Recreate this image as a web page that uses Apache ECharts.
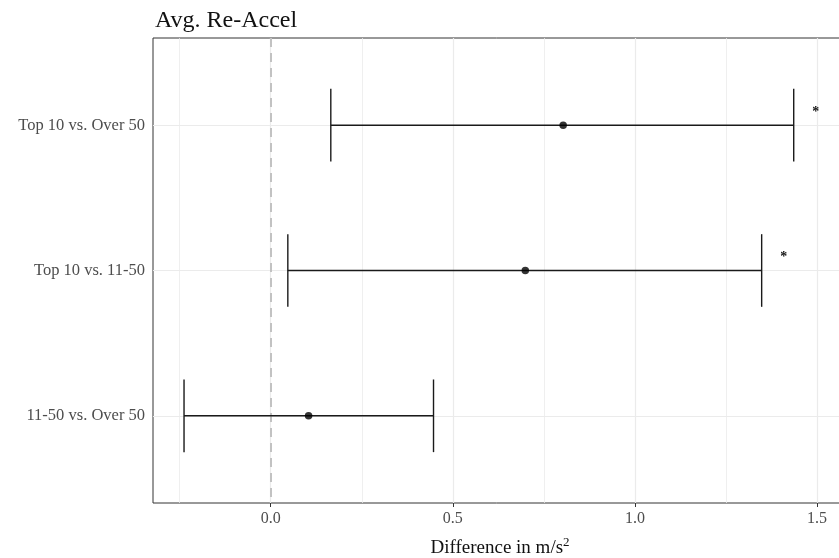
<!DOCTYPE html>
<html><head><meta charset="utf-8">
<script src="https://cdn.jsdelivr.net/npm/echarts@6/dist/echarts.min.js"></script>
<style>html,body{margin:0;padding:0;background:#fff;overflow:hidden}#c{width:839px;height:558px}</style>
</head><body><div id="c"></div>
<script>
// Pairwise differences in average re-acceleration, with confidence intervals
const comparisons = ['Top 10 vs. Over 50', 'Top 10 vs. 11-50', '11-50 vs. Over 50'];
const estimates = [0.803, 0.699, 0.104];
const lowerCI = [0.165, 0.047, -0.238];
const upperCI = [1.436, 1.348, 0.447];
const significant = [true, true, false];
const xTickValues = [0, 0.5, 1.0, 1.5];
const xMinorGrid = [-0.25, 0.25, 0.75, 1.25];

const FONT = '"Liberation Serif", "DejaVu Serif", serif';
const GRID = '#ebebeb';
const catPos = comparisons.map((_, i) => i + 1);

const chart = echarts.init(document.getElementById('c'), null, { renderer: 'canvas' });

const gridLines = [];
xTickValues.forEach(v => gridLines.push({ xAxis: v, lineStyle: { color: GRID, width: 1.2, type: 'solid' } }));
xMinorGrid.forEach(v => gridLines.push({ xAxis: v, lineStyle: { color: GRID, width: 0.8, type: 'solid' } }));
catPos.forEach(v => gridLines.push({ yAxis: v, lineStyle: { color: GRID, width: 1.2, type: 'solid' } }));

chart.setOption({
  animation: false,
  backgroundColor: '#fff',
  title: {
    text: 'Avg. Re-Accel',
    left: 150, top: 4,
    textStyle: { fontFamily: FONT, fontSize: 24, fontWeight: 'normal', color: '#111' }
  },
  grid: {
    left: 153, right: -30, top: 38, bottom: 55,
    outerBoundsMode: 'none',
    show: true, borderColor: '#333', borderWidth: 1, backgroundColor: 'transparent'
  },
  xAxis: {
    type: 'value', min: -0.3232, max: 1.6427,
    axisLine: { show: false },
    splitLine: { show: false },
    axisTick: { show: true, customValues: xTickValues, length: 4, lineStyle: { color: '#333' } },
    axisLabel: {
      customValues: xTickValues, margin: 8,
      formatter: v => v.toFixed(1),
      fontFamily: FONT, fontSize: 16, color: '#4d4d4d'
    },
    name: '{t|Difference in m/s}{s|2}',
    nameLocation: 'middle', nameGap: 33,
    nameTextStyle: {
      padding: [0, 22, 0, 0],
      rich: {
        t: { fontFamily: FONT, fontSize: 19, color: '#111' },
        s: { fontFamily: FONT, fontSize: 13, color: '#111', verticalAlign: 'top', padding: [0, 0, 12, 0] }
      }
    }
  },
  yAxis: {
    type: 'value', min: 0.4, max: 3.6, inverse: true,
    axisLine: { show: false },
    splitLine: { show: false },
    axisTick: { show: true, customValues: catPos, length: 4, lineStyle: { color: '#333' } },
    axisLabel: {
      customValues: catPos, margin: 8,
      formatter: v => comparisons[Math.round(v) - 1],
      fontFamily: FONT, fontSize: 16.5, color: '#4d4d4d'
    }
  },
  series: [
    {
      type: 'line', data: [], silent: true, z: 1,
      markLine: { silent: true, symbol: 'none', label: { show: false }, animation: false, data: gridLines }
    },
    {
      type: 'line', data: [], silent: true, z: 2,
      markLine: {
        silent: true, symbol: 'none', label: { show: false }, animation: false,
        data: [{ xAxis: 0, lineStyle: { color: '#c2c2c2', width: 2, type: [9, 6] } }]
      }
    },
    {
      type: 'custom', z: 5,
      encode: { x: [1, 2], y: 0 },
      data: comparisons.map((_, i) => [i + 1, lowerCI[i], upperCI[i], significant[i] ? 1 : 0]),
      renderItem(params, api) {
        const y = api.value(0), lo = api.value(1), hi = api.value(2), sig = api.value(3);
        const pL = api.coord([lo, y]);
        const pH = api.coord([hi, y]);
        const h = api.size([0, 0.25])[1];
        const st = { stroke: '#1a1a1a', lineWidth: 1.4 };
        const children = [
          { type: 'line', shape: { x1: pL[0], y1: pL[1], x2: pH[0], y2: pH[1] }, style: st },
          { type: 'line', shape: { x1: pL[0], y1: pL[1] - h, x2: pL[0], y2: pL[1] + h }, style: st },
          { type: 'line', shape: { x1: pH[0], y1: pH[1] - h, x2: pH[0], y2: pH[1] + h }, style: st }
        ];
        if (sig) {
          children.push({
            type: 'text', x: pH[0] + 22, y: pH[1] - 13,
            style: { text: '*', fontFamily: FONT, fontSize: 14, fontWeight: 'bold', fill: '#111', align: 'center', verticalAlign: 'middle' }
          });
        }
        return { type: 'group', children };
      }
    },
    {
      type: 'scatter', z: 6,
      symbol: 'circle', symbolSize: 7.5,
      itemStyle: { color: '#000' },
      data: comparisons.map((_, i) => [estimates[i], i + 1])
    }
  ]
});
</script>
</body></html>
